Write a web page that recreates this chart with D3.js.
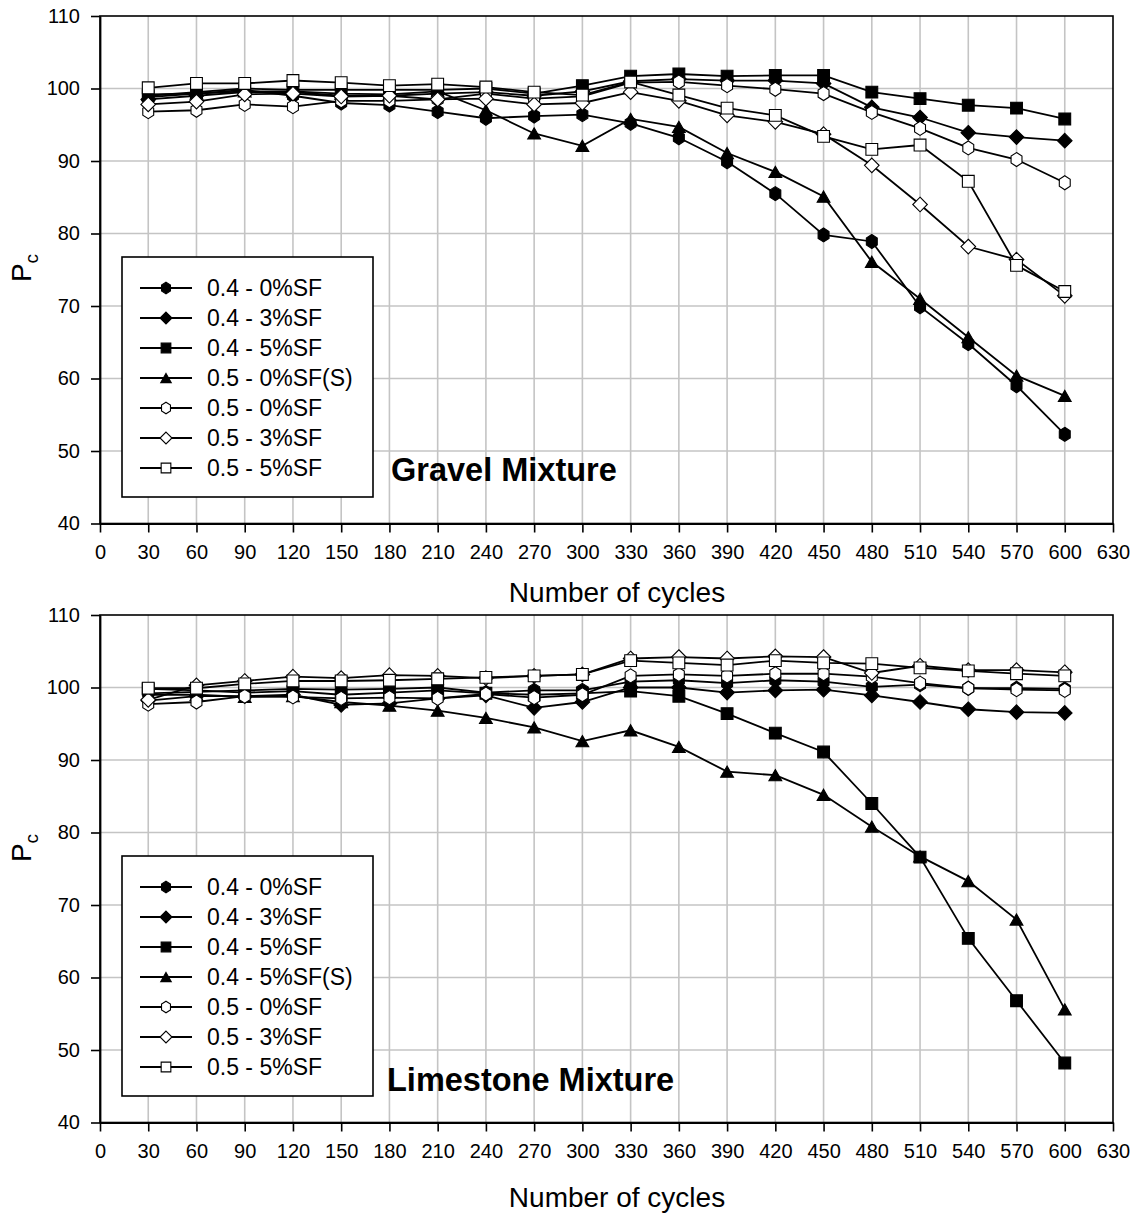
<!DOCTYPE html>
<html>
<head>
<meta charset="utf-8">
<script src="https://cdn.jsdelivr.net/npm/d3@7/dist/d3.min.js"></script>
<style>
  html, body { margin: 0; padding: 0; background: #fff; }
  svg { display: block; font-family: "Liberation Sans", Arial, sans-serif; }
</style>
</head>
<body>
<svg id="chart" width="1138" height="1213"></svg>
<script>
// Number of freeze-thaw cycles (x values shared by every series)
const cycles = [30, 60, 90, 120, 150, 180, 210, 240, 270, 300,
                330, 360, 390, 420, 450, 480, 510, 540, 570, 600];
const xTicks = d3.range(0, 631, 30);
const yTicks = [40, 50, 60, 70, 80, 90, 100, 110];

// Gravel mixture, relative dynamic modulus Pc (%)
const gravel04sf0  = [98.8, 99.3, 99.8, 99.0, 98.0, 97.7, 96.8, 95.9, 96.2, 96.4, 95.2, 93.2, 89.9, 85.5, 79.8, 78.9, 69.9, 64.8, 59.0, 52.3];
const gravel04sf3  = [98.5, 99.0, 99.5, 99.5, 99.0, 99.0, 99.3, 99.5, 99.0, 99.6, 101.0, 101.3, 101.1, 101.1, 100.7, 97.4, 96.0, 93.9, 93.3, 92.8];
const gravel04sf5  = [99.0, 99.5, 100.0, 99.8, 99.8, 99.8, 99.8, 100.0, 99.3, 100.4, 101.7, 102.0, 101.7, 101.8, 101.8, 99.5, 98.6, 97.7, 97.3, 95.8];
const gravel05sf0S = [99.2, 99.3, 99.6, 99.6, 99.3, 99.2, 99.6, 97.0, 93.8, 92.1, 95.8, 94.7, 91.1, 88.5, 85.1, 76.1, 71.0, 65.7, 60.4, 57.6];
const gravel05sf0  = [96.8, 97.0, 97.8, 97.5, 98.3, 98.3, 98.5, 99.3, 98.6, 98.9, 100.8, 100.9, 100.4, 99.9, 99.3, 96.7, 94.5, 91.8, 90.2, 87.0];
const gravel05sf3  = [97.8, 98.2, 99.2, 99.3, 98.9, 99.0, 98.5, 98.6, 97.8, 98.0, 99.5, 98.3, 96.3, 95.4, 93.7, 89.4, 84.0, 78.2, 76.4, 71.4];
const gravel05sf5  = [100.1, 100.7, 100.7, 101.1, 100.8, 100.4, 100.6, 100.2, 99.5, 99.1, 100.9, 99.1, 97.3, 96.3, 93.4, 91.6, 92.2, 87.2, 75.6, 72.0];
const gravelLabels = ["0.4 - 0%SF", "0.4 - 3%SF", "0.4 - 5%SF", "0.5 - 0%SF(S)",
                      "0.5 - 0%SF", "0.5 - 3%SF", "0.5 - 5%SF"];

// Limestone mixture, relative dynamic modulus Pc (%)
const lime04sf0  = [99.2, 99.4, 99.6, 99.8, 99.7, 99.8, 100.0, 99.3, 99.6, 99.6, 100.8, 101.0, 100.6, 101.0, 100.8, 100.1, 100.4, 99.9, 99.9, 99.8];
const lime04sf3  = [98.2, 98.8, 98.8, 99.0, 97.6, 97.8, 98.5, 98.9, 97.2, 98.0, 100.0, 100.0, 99.3, 99.6, 99.7, 98.9, 98.0, 97.0, 96.6, 96.5];
const lime04sf5  = [99.8, 99.6, 99.3, 99.5, 99.0, 99.3, 99.6, 99.2, 99.0, 99.2, 99.5, 98.8, 96.4, 93.7, 91.1, 84.0, 76.6, 65.4, 56.8, 48.2];
const lime04sf5S = [99.0, 99.0, 98.7, 98.8, 98.0, 97.5, 96.8, 95.8, 94.5, 92.6, 94.1, 91.8, 88.4, 87.9, 85.2, 80.8, 76.7, 73.3, 68.0, 55.6];
const lime05sf0  = [97.7, 98.0, 98.8, 98.7, 98.5, 98.6, 98.5, 99.1, 98.6, 99.0, 101.6, 101.8, 101.6, 101.9, 101.9, 101.5, 100.6, 99.9, 99.7, 99.6];
const lime05sf3  = [98.3, 100.3, 100.9, 101.5, 101.3, 101.7, 101.6, 101.3, 101.6, 101.8, 104.0, 104.2, 104.0, 104.3, 104.2, 102.0, 103.0, 102.4, 102.4, 102.1];
const lime05sf5  = [99.9, 99.9, 100.5, 100.9, 100.9, 101.0, 101.2, 101.4, 101.6, 101.8, 103.7, 103.4, 103.1, 103.7, 103.4, 103.3, 102.7, 102.3, 101.9, 101.6];
const limeLabels = ["0.4 - 0%SF", "0.4 - 3%SF", "0.4 - 5%SF", "0.4 - 5%SF(S)",
                    "0.5 - 0%SF", "0.5 - 3%SF", "0.5 - 5%SF"];

// Marker style per series position (same in both panels)
const markerShapes = ["hex", "diamond", "square", "triangle", "hex", "diamond", "square"];
const markerFilled = [true, true, true, true, false, false, false];

const svg = d3.select("#chart");
const x = d3.scaleLinear().domain([0, 630]).range([100, 1113]);

function markerPath(shape, k) {
  const p = d3.path();
  if (shape === "hex") {
    const r = 7 * k;
    for (let i = 0; i < 6; i++) {
      const a = (-90 + i * 60) * Math.PI / 180;
      const px = r * Math.cos(a) * 0.9, py = r * Math.sin(a);
      i === 0 ? p.moveTo(px, py) : p.lineTo(px, py);
    }
  } else if (shape === "diamond") {
    const r = 7.3 * k;
    p.moveTo(0, -r); p.lineTo(r, 0); p.lineTo(0, r); p.lineTo(-r, 0);
  } else if (shape === "square") {
    const r = 5.9 * k;
    p.rect(-r, -r, 2 * r, 2 * r);
  } else {
    const w = 6.4 * k, h = 5.6 * k;
    p.moveTo(0, -h); p.lineTo(w, h); p.lineTo(-w, h);
  }
  p.closePath();
  return p.toString();
}

function drawPanel(top, series, labels, title, cfg) {
  const y = d3.scaleLinear().domain([40, 110]).range([top + 507.5, top]);
  const g = svg.append("g");
  const [x0, x1] = x.range();
  const [yb, yt] = y.range();

  // grid
  g.append("g").selectAll("line").data(xTicks.filter(t => t > 0 && t < 630)).join("line")
    .attr("x1", d => x(d)).attr("x2", d => x(d)).attr("y1", yt).attr("y2", yb)
    .attr("stroke", "#c4c4c4").attr("stroke-width", 1.6);
  g.append("g").selectAll("line").data(yTicks.filter(t => t > 40 && t < 110)).join("line")
    .attr("x1", x0).attr("x2", x1).attr("y1", d => y(d)).attr("y2", d => y(d))
    .attr("stroke", "#c4c4c4").attr("stroke-width", 1.6);

  // frame
  g.append("rect").attr("x", x0).attr("y", yt).attr("width", x1 - x0).attr("height", yb - yt)
    .attr("fill", "none").attr("stroke", "#000").attr("stroke-width", 1.6);

  // axes
  const ax = g.append("g").attr("transform", `translate(0,${yb})`)
    .call(d3.axisBottom(x).tickValues(xTicks).tickSize(9).tickSizeOuter(0).tickPadding(12));
  const ay = g.append("g").attr("transform", `translate(${x0},0)`)
    .call(d3.axisLeft(y).tickValues(yTicks).tickSize(9).tickSizeOuter(0).tickPadding(11));
  [ax, ay].forEach(a => {
    a.select(".domain").attr("stroke", "#000").attr("stroke-width", 1.8);
    a.selectAll(".tick line").attr("stroke", "#000").attr("stroke-width", 1.6);
    a.selectAll(".tick text").attr("fill", "#000").attr("font-size", 20)
      .attr("font-family", "'Liberation Sans', Arial, sans-serif");
  });

  // axis titles
  g.append("text").attr("x", 617).attr("y", yb + cfg.xTitleDy).attr("text-anchor", "middle")
    .attr("font-size", 28).text("Number of cycles");
  const yl = g.append("text").attr("transform", `translate(31,${top + cfg.yTitleDy}) rotate(-90)`)
    .attr("text-anchor", "middle").attr("font-size", 28);
  yl.append("tspan").text("P");
  yl.append("tspan").attr("font-size", 19).attr("dy", 7).text("c");

  // series lines and markers
  const line = d3.line().x((d, i) => x(cycles[i])).y(d => y(d));
  series.forEach((vals, s) => {
    const sg = g.append("g");
    sg.append("path").attr("d", line(vals)).attr("fill", "none")
      .attr("stroke", "#000").attr("stroke-width", 1.8);
    sg.selectAll("path.m").data(vals).join("path").attr("class", "m")
      .attr("transform", (d, i) => `translate(${x(cycles[i])},${y(d)})`)
      .attr("d", markerPath(markerShapes[s], 1))
      .attr("fill", markerFilled[s] ? "#000" : "#fff")
      .attr("stroke", "#000").attr("stroke-width", 1.1);
  });

  // legend
  const lg = g.append("g").attr("transform", `translate(122,${top + 241})`);
  lg.append("rect").attr("width", 251).attr("height", 240)
    .attr("fill", "#fff").attr("stroke", "#000").attr("stroke-width", 1.6);
  labels.forEach((lab, s) => {
    const ry = 31 + s * 30;
    lg.append("line").attr("x1", 18).attr("x2", 70).attr("y1", ry).attr("y2", ry)
      .attr("stroke", "#000").attr("stroke-width", 1.8);
    lg.append("path").attr("transform", `translate(44,${ry})`)
      .attr("d", markerPath(markerShapes[s], 0.82))
      .attr("fill", markerFilled[s] ? "#000" : "#fff")
      .attr("stroke", "#000").attr("stroke-width", 1.1);
    lg.append("text").attr("x", 85).attr("y", ry + 8).attr("font-size", 23).text(lab);
  });

  // panel title
  g.append("text").attr("x", cfg.titleX).attr("y", top + cfg.titleDy)
    .attr("font-size", 32.5).attr("font-weight", "bold").text(title);
}

drawPanel(16,
  [gravel04sf0, gravel04sf3, gravel04sf5, gravel05sf0S, gravel05sf0, gravel05sf3, gravel05sf5],
  gravelLabels, "Gravel Mixture", { xTitleDy: 78, yTitleDy: 252, titleX: 391, titleDy: 465 });
drawPanel(615,
  [lime04sf0, lime04sf3, lime04sf5, lime04sf5S, lime05sf0, lime05sf3, lime05sf5],
  limeLabels, "Limestone Mixture", { xTitleDy: 84, yTitleDy: 233, titleX: 387, titleDy: 476 });
</script>
</body>
</html>
